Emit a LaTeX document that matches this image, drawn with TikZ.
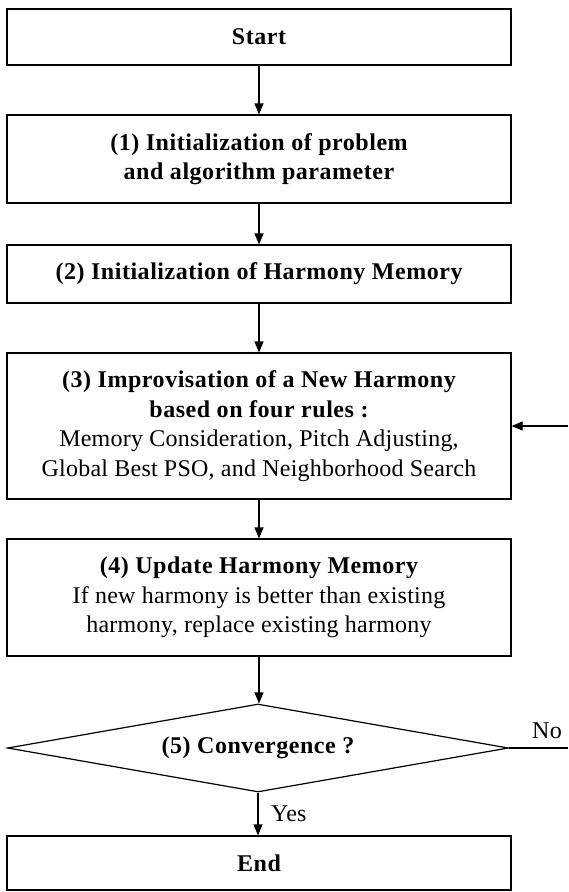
\documentclass[tikz,border=0pt]{standalone}
\usepackage{fontspec}
\setmainfont{Liberation Serif}[LetterSpace=1, BoldFeatures={LetterSpace=2.2}]
\usetikzlibrary{arrows.meta,shapes.geometric}
\tikzset{
  box/.style={draw, line width=1.2pt, rectangle, minimum width=504pt, inner sep=0pt, align=center,
    font=\fontsize{24}{29.5}\selectfont},
  decision/.style={draw, line width=1.2pt, diamond, aspect=5.7, minimum width=501pt, minimum height=88pt,
    inner sep=0pt, font=\fontsize{24}{29.5}\selectfont\bfseries},
  arr/.style={line width=1.2pt, -{Triangle[length=11pt,width=9pt]}},
  lin/.style={line width=1.2pt},
  lbl/.style={font=\fontsize{24}{29.5}\selectfont, inner sep=0pt}
}
\begin{document}
\begin{tikzpicture}[x=1pt,y=-1pt]
\useasboundingbox (0,0) rectangle (568,892);
\node[box, minimum height=56pt] (start) at (259,37) {\bfseries Start};
\node[box, minimum height=88pt] (b1) at (259,159) {\bfseries (1) Initialization of problem\\\bfseries and algorithm parameter};
\node[box, minimum height=58pt] (b2) at (259,274) {\bfseries (2) Initialization of Harmony Memory};
\node[box, minimum height=146pt] (b3) at (259,426) {\bfseries (3) Improvisation of a New Harmony\\\bfseries based on four rules :\\Memory Consideration, Pitch Adjusting,\\Global Best PSO, and Neighborhood Search};
\node[box, minimum height=117pt] (b4) at (259,597.5) {\bfseries (4) Update Harmony Memory\\If new harmony is better than existing\\harmony, replace existing harmony};
\node[decision] (dec) at (258,748) {(5) Convergence ?};
\node[box, minimum height=54pt] (end) at (259,863) {\bfseries End};
\coordinate (noend) at (568,748);
\coordinate (loopin) at (568,426);
\node[lbl] (no) at (547,731) {No};
\node[lbl, anchor=west] (yes) at (271,814) {Yes};
\draw[arr] (start) -- (b1);
\draw[arr] (b1) -- (b2);
\draw[arr] (b2) -- (b3);
\draw[arr] (b3) -- (b4);
\draw[arr] (b4.south) -- (b4.south |- dec.north);
\draw[arr] (dec.south) -- (dec.south |- end.north);
\draw[lin] (dec.east) -- (noend);
\draw[arr] (loopin) -- (b3.east);
\end{tikzpicture}
\end{document}
